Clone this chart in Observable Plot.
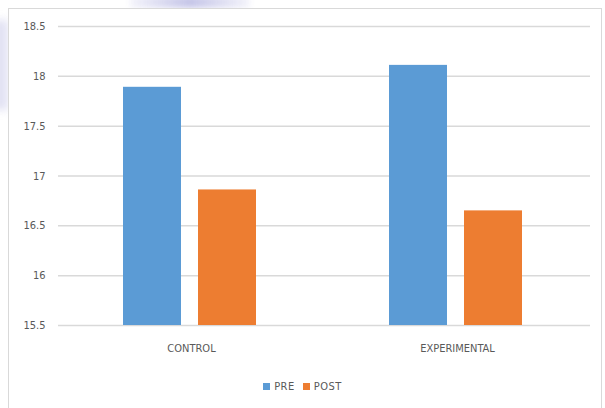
<!DOCTYPE html>
<html>
<head>
<meta charset="utf-8">
<script src="https://cdn.jsdelivr.net/npm/d3@7"></script>
<script src="https://cdn.jsdelivr.net/npm/@observablehq/plot@0.6"></script>
<style>
  html, body { margin: 0; padding: 0; background: #fff; }
  body { width: 605px; height: 408px; position: relative; overflow: hidden;
         font-family: "Liberation Sans Narrow", "DejaVu Sans Condensed", "Liberation Sans", sans-serif; }
  #wm1 { position: absolute; left: -6px; top: 20px; width: 14px; height: 90px; background: #d4d4ee;
         filter: blur(4px); opacity: 0.7; }
  #wm2 { position: absolute; left: 130px; top: -4px; width: 120px; height: 12px;
         background: linear-gradient(90deg, rgba(200,200,235,0.2), rgba(180,180,225,0.8), rgba(200,200,235,0.2));
         filter: blur(3px); }
  #frame { position: absolute; left: 8px; top: 8px; width: 594px; height: 402px;
           border: 1.5px solid #d9d9d9; box-sizing: border-box; background: #fff; }
  #chart { position: absolute; left: 0; top: 0; }
  #legend { position: absolute; left: 0; top: 378px; width: 605px; text-align: center;
            font-size: 11px; color: #595959; line-height: 18px; letter-spacing: 0.5px; }
  #legend span.sw { display: inline-block; width: 7px; height: 7px; margin-right: 4px; vertical-align: 0px; }
  #legend span.item { margin: 0 4px; }
</style>
</head>
<body>
<div id="wm1"></div>
<div id="wm2"></div>
<div id="frame"></div>
<div id="chart"></div>
<div id="legend"></div>
<script>
const categories = ["CONTROL", "EXPERIMENTAL"];
const series = ["PRE", "POST"];
const preValues = [17.89, 18.11];
const postValues = [16.86, 16.65];
const yTicks = [15.5, 16, 16.5, 17, 17.5, 18, 18.5];
const colors = ["#5B9BD5", "#ED7D31"];

const data = [];
categories.forEach((c, i) => {
  data.push({category: c, series: "PRE", value: preValues[i]});
  data.push({category: c, series: "POST", value: postValues[i]});
});

const chart = Plot.plot({
  width: 605,
  height: 365,
  marginLeft: 57,
  marginRight: 15,
  marginTop: 26,
  marginBottom: 40,
  style: {background: "transparent", fontFamily: "'Liberation Sans Narrow', 'DejaVu Sans Condensed', sans-serif", fontSize: "11px", color: "#595959"},
  fx: {domain: categories, padding: 0, label: null, tickSize: 0, tickPadding: 19},
  x: {domain: series, paddingInner: 0.224, paddingOuter: 0.865, axis: null},
  y: {domain: [15.5, 18.5], ticks: yTicks, tickFormat: d => String(d), label: null, tickSize: 0, tickPadding: 13},
  color: {domain: series, range: colors},
  marks: [
    Plot.gridY(yTicks, {stroke: "#d9d9d9", strokeOpacity: 1, strokeWidth: 1.5, facetAnchor: null}),
    Plot.barY(data, {fx: "category", x: "series", y1: 15.5, y2: "value", fill: "series", dx: -1}),
    Plot.axisY(yTicks, {tickSize: 0, tickPadding: 13, tickFormat: d => String(d), fill: "#595959"})
  ]
});
document.getElementById("chart").appendChild(chart);

const legend = document.getElementById("legend");
series.forEach((s, i) => {
  const item = document.createElement("span");
  item.className = "item";
  const sw = document.createElement("span");
  sw.className = "sw";
  sw.style.background = colors[i];
  item.appendChild(sw);
  item.appendChild(document.createTextNode(s));
  legend.appendChild(item);
});
</script>
</body>
</html>
